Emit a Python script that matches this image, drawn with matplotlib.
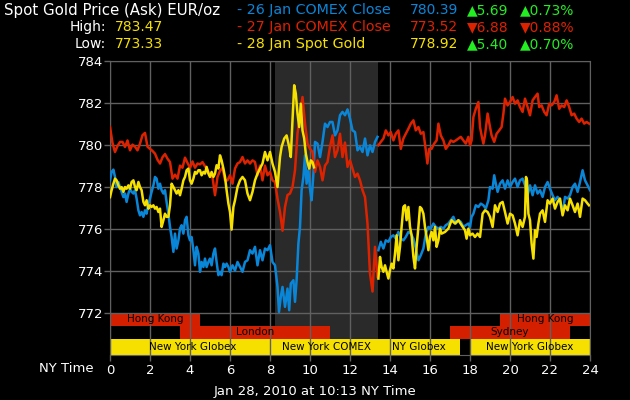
import matplotlib
matplotlib.use('Agg')
import matplotlib.pyplot as plt

# --- data -------------------------------------------------------------
# 27 Jan (red), 26 Jan (blue), 28 Jan (yellow); each day is drawn in two
# pieces: session up to COMEX close, then the evening after 13.4
red1_t = [0, 0.125, 0.25, 0.375, 0.5, 0.625, 0.75, 0.875, 1.0, 1.125, 1.25, 1.375, 1.5, 1.625, 1.75, 1.875,
          2.0, 2.125, 2.25, 2.375, 2.5, 2.625, 2.75, 2.875, 3.0, 3.125, 3.25, 3.375, 3.5, 3.625, 3.75, 3.875,
          4.0, 4.125, 4.25, 4.375, 4.5, 4.625, 4.75, 4.875, 5.0, 5.125, 5.25, 5.375, 5.5, 5.625, 5.75, 5.875,
          6.0, 6.125, 6.25, 6.375, 6.5, 6.625, 6.75, 6.875, 7.0, 7.125, 7.25, 7.375, 7.5, 7.625, 7.75, 7.875,
          8.0, 8.125, 8.25, 8.375, 8.5, 8.625, 8.75, 8.875, 9.0, 9.125, 9.25, 9.375, 9.5, 9.625, 9.75, 9.875,
          10.0, 10.125, 10.25, 10.375, 10.5, 10.625, 10.75, 10.875, 11.0, 11.125, 11.25, 11.375, 11.5, 11.625,
          11.75, 11.875, 12.0, 12.125, 12.25, 12.375, 12.5, 12.625, 12.75, 12.875, 13.0, 13.125, 13.25, 13.375]
red1_v = [780.84, 780.08, 779.65, 779.94, 780.13, 780.13, 779.89, 780.2, 779.73, 780.0, 779.9, 779.73, 780.05, 780.45, 780.56, 779.9,
          779.8, 779.7, 779.57, 779.28, 779.1, 779.4, 779.55, 779.33, 779.17, 778.38, 778.57, 778.38, 779.0, 778.9, 779.38, 779.13,
          778.9, 779.2, 778.9, 779.1, 779.06, 779.17, 778.97, 778.8, 778.54, 778.46, 777.59, 778.46, 778.75, 778.9, 778.3, 778.3,
          778.54, 778.14, 778.86, 779.1, 779.17, 779.41, 779.1, 779.25, 779.1, 779.25, 779.17, 778.54, 779.0, 778.3, 779.0, 778.54,
          778.7, 778.3, 778.22, 777.43, 776.8, 775.9, 777.03, 777.6, 777.67, 777.98, 778.78, 780.52, 781.48, 782.27, 781.0, 780.05,
          779.8, 779.65, 778.7, 779.25, 778.94, 778.3, 779.0, 779.17, 779.9, 780.44, 779.41, 779.73, 780.52, 779.41,
          780.1, 778.94, 779.25, 778.86, 778.46, 778.62, 778.3, 777.83, 777.5, 776.24, 773.86, 773.0, 775.13, 773.7]

red2_t = [13.42, 13.54, 13.67, 13.79, 13.92, 14.04, 14.17, 14.29, 14.42, 14.54, 14.67, 14.79, 14.92, 15.04, 15.17, 15.29,
          15.42, 15.54, 15.67, 15.79, 15.87, 15.96, 16.08, 16.21, 16.33, 16.42, 16.54, 16.67, 16.79, 16.92, 17.04, 17.17,
          17.29, 17.42, 17.54, 17.67, 17.79, 17.92, 18.0, 18.08, 18.17, 18.29, 18.42, 18.5, 18.58, 18.67, 18.75, 18.88,
          19.0, 19.08, 19.21, 19.33, 19.46, 19.58, 19.67, 19.75, 19.88, 20.0, 20.13, 20.25, 20.38, 20.5, 20.63, 20.75,
          20.88, 21.0, 21.13, 21.25, 21.38, 21.46, 21.58, 21.71, 21.83, 21.96, 22.08, 22.21, 22.33, 22.46, 22.58, 22.71,
          22.83, 22.96, 23.08, 23.21, 23.33, 23.46, 23.58, 23.71, 23.83, 23.96]
red2_v = [779.97, 780.13, 780.29, 780.68, 780.44, 780.6, 780.2, 780.52, 780.68, 779.8, 780.29, 780.52, 780.76, 781.0, 781.16, 780.68,
          780.84, 780.52, 780.6, 779.73, 779.1, 779.8, 779.8, 780.05, 780.2, 781.0, 780.44, 780.2, 779.8, 779.97, 780.2, 780.13,
          780.2, 780.29, 780.37, 780.2, 780.05, 780.37, 779.97, 780.2, 781.32, 781.71, 782.03, 780.84, 780.44, 780.05, 780.44, 781.48,
          780.84, 780.44, 780.13, 780.52, 780.68, 780.84, 781.48, 782.19, 781.87, 782.03, 782.27, 781.95, 782.11, 781.79, 781.56, 782.19,
          781.79, 781.4, 782.11, 782.27, 782.43, 781.79, 781.87, 781.56, 781.4, 781.95, 781.87, 782.03, 782.35, 781.71, 781.87, 781.79,
          782.11, 781.79, 781.4, 781.48, 781.24, 781.08, 781.24, 781.0, 781.08, 781.0]

blue1_t = [0, 0.08, 0.17, 0.25, 0.33, 0.42, 0.5, 0.58, 0.67, 0.75, 0.83, 0.92, 1.0, 1.08, 1.17, 1.25, 1.33, 1.42, 1.5, 1.58,
           1.67, 1.75, 1.83, 1.92, 2.0, 2.08, 2.17, 2.25, 2.33, 2.42, 2.5, 2.58, 2.67, 2.75, 2.83, 2.92, 3.0, 3.08, 3.17, 3.25,
           3.33, 3.42, 3.5, 3.58, 3.67, 3.75, 3.83, 3.92, 4.0, 4.08, 4.17, 4.25, 4.33, 4.42, 4.5, 4.58, 4.67, 4.75, 4.83, 4.92,
           5.0, 5.08, 5.17, 5.25, 5.33, 5.42, 5.5, 5.58, 5.67, 5.75, 5.83, 5.92, 6.0, 6.125, 6.25, 6.375, 6.5, 6.625, 6.75, 6.875,
           7.0, 7.125, 7.25, 7.375, 7.5, 7.625, 7.75, 7.875, 8.0, 8.125, 8.25, 8.375, 8.45, 8.54, 8.625, 8.75, 8.875, 8.96, 9.04, 9.17,
           9.25, 9.33, 9.42, 9.5, 9.58, 9.67, 9.75, 9.83, 9.92, 10.0, 10.08, 10.17, 10.25, 10.375, 10.5, 10.625, 10.75, 10.875, 11.0, 11.125,
           11.25, 11.375, 11.5, 11.625, 11.75, 11.875, 12.0, 12.125, 12.25, 12.375, 12.5, 12.625, 12.75, 12.875, 13.0, 13.125, 13.25, 13.375]
blue1_v = [778.3, 778.7, 778.81, 778.46, 777.98, 778.22, 777.98, 777.75, 777.5, 777.67, 777.27, 777.67, 777.9, 777.75, 777.67, 777.83, 777.43, 776.87, 776.63, 776.79,
           776.56, 776.87, 776.71, 777.19, 777.43, 777.75, 778.06, 778.46, 778.38, 777.9, 778.14, 777.83, 777.67, 777.83, 777.27, 776.71, 776.08, 775.6, 774.89, 775.76,
           775.05, 775.44, 776.0, 776.16, 775.76, 776.4, 776.56, 775.68, 775.44, 775.6, 774.97, 774.25, 775.13, 774.81, 773.94, 774.41, 774.17, 774.57, 774.17, 774.41,
           774.57, 774.25, 774.81, 775.05, 774.41, 773.78, 773.94, 773.78, 774.33, 774.17, 774.33, 774.17, 773.94, 774.25, 774.0, 774.41, 774.17, 773.94, 774.41, 774.49,
           774.97, 774.81, 775.13, 774.25, 774.97, 774.49, 775.05, 774.97, 775.21, 774.41, 774.25, 773.22, 772.03, 772.75, 773.22, 772.27, 773.14, 772.11, 773.38, 773.54,
           772.51, 773.54, 775.29, 776.08, 777.83, 778.46, 779.49, 778.14, 778.78, 777.9, 777.35, 778.62, 780.13, 780.05, 779.41, 780.13, 781.0, 780.84, 781.08, 781.08,
           780.44, 780.68, 781.4, 781.56, 781.4, 781.68, 781.24, 780.68, 780.6, 779.73, 779.89, 779.65, 780.29, 779.49, 779.97, 779.65, 780.13, 780.37]

blue2_t = [13.42, 13.54, 13.67, 13.79, 13.92, 14.04, 14.17, 14.29, 14.42, 14.54, 14.67, 14.79, 14.92, 15.04, 15.17, 15.29,
           15.42, 15.54, 15.67, 15.79, 15.92, 16.04, 16.17, 16.29, 16.42, 16.54, 16.67, 16.79, 16.92, 17.04, 17.17, 17.29,
           17.42, 17.54, 17.67, 17.79, 17.92, 18.0, 18.08, 18.17, 18.29, 18.42, 18.54, 18.67, 18.79, 18.92, 19.0, 19.13,
           19.21, 19.29, 19.38, 19.5, 19.63, 19.75, 19.88, 20.0, 20.13, 20.25, 20.38, 20.5, 20.63, 20.75, 20.88, 21.0,
           21.13, 21.25, 21.38, 21.5, 21.63, 21.75, 21.88, 22.0, 22.13, 22.25, 22.38, 22.5, 22.63, 22.75, 22.88, 23.0,
           23.13, 23.25, 23.38, 23.5, 23.63, 23.75, 23.88, 24.0]
blue2_v = [774.97, 775.37, 775.05, 775.44, 775.37, 775.6, 775.68, 775.52, 775.84, 775.52, 775.44, 775.6, 775.84, 775.76, 775.52, 775.05,
           774.49, 774.73, 775.05, 775.76, 776.08, 776.0, 776.24, 776.08, 776.0, 776.08, 776.0, 776.16, 776.24, 776.4, 776.56, 776.24,
           776.4, 776.32, 776.08, 776.16, 776.24, 776.08, 776.56, 776.71, 777.11, 777.03, 777.19, 777.11, 776.95, 777.35, 777.98, 777.9,
           778.54, 778.14, 777.75, 778.14, 778.3, 777.9, 778.3, 777.98, 778.22, 778.38, 777.98, 778.3, 778.38, 778.06, 777.59, 778.06,
           777.59, 778.06, 777.67, 777.83, 777.51, 777.98, 778.22, 777.9, 777.59, 777.35, 777.51, 777.35, 776.71, 777.51, 777.43, 777.59,
           777.98, 778.14, 777.75, 778.22, 778.78, 778.3, 778.06, 777.83]

yel1_t = [0, 0.08, 0.17, 0.25, 0.33, 0.42, 0.5, 0.58, 0.67, 0.75, 0.83, 0.92, 1.0, 1.08, 1.17, 1.25, 1.33, 1.42, 1.5, 1.58,
          1.67, 1.75, 1.83, 1.92, 2.0, 2.08, 2.17, 2.25, 2.33, 2.42, 2.5, 2.58, 2.67, 2.75, 2.83, 2.92, 3.0, 3.08, 3.17, 3.25,
          3.33, 3.42, 3.5, 3.58, 3.67, 3.75, 3.83, 3.92, 4.0, 4.08, 4.17, 4.25, 4.33, 4.42, 4.5, 4.58, 4.67, 4.75, 4.83, 4.92,
          5.0, 5.08, 5.17, 5.25, 5.33, 5.42, 5.5, 5.58, 5.67, 5.75, 5.83, 5.92, 6.0, 6.08, 6.17, 6.25, 6.375, 6.5, 6.625, 6.75,
          6.875, 7.0, 7.125, 7.25, 7.375, 7.5, 7.625, 7.75, 7.875, 8.0, 8.125, 8.25, 8.375, 8.5, 8.58, 8.71, 8.83, 8.96, 9.04, 9.125,
          9.21, 9.29, 9.375, 9.46, 9.54, 9.625, 9.71, 9.79, 9.875, 9.96, 10.04, 10.125, 10.2]
yel1_v = [777.5, 777.83, 778.14, 778.38, 778.3, 778.06, 777.9, 777.98, 777.75, 777.98, 777.9, 778.06, 777.9, 778.22, 778.3, 777.98, 777.83, 778.22, 777.98, 777.83,
          777.27, 777.11, 777.35, 776.95, 777.11, 777.03, 777.11, 776.95, 777.03, 776.79, 776.95, 776.08, 776.4, 776.71, 776.56, 776.56, 777.11, 778.14, 777.98, 777.83,
          777.67, 777.83, 777.59, 777.9, 778.3, 778.46, 778.78, 778.86, 778.3, 778.14, 778.38, 778.7, 778.62, 778.78, 778.78, 778.54, 778.7, 778.62, 778.94, 778.62,
          778.46, 778.7, 778.46, 778.62, 779.02, 778.86, 779.49, 779.25, 778.86, 778.46, 777.83, 777.19, 776.79, 775.95, 777.03, 777.35, 777.98, 778.3, 778.46, 778.3,
          777.67, 777.35, 777.75, 778.3, 778.62, 778.86, 779.1, 779.65, 779.25, 779.65, 779.1, 778.7, 777.98, 779.41, 779.89, 780.29, 780.44, 779.89, 779.41, 781.16,
          782.83, 782.43, 781.48, 780.84, 781.95, 780.68, 780.29, 779.57, 779.17, 778.86, 779.25, 779.17, 778.92]

yel2_t = [13.42, 13.5, 13.58, 13.67, 13.75, 13.83, 13.92, 14.0, 14.08, 14.17, 14.25, 14.33, 14.42, 14.5, 14.58, 14.67,
          14.75, 14.83, 14.92, 15.0, 15.08, 15.17, 15.25, 15.33, 15.42, 15.5, 15.58, 15.67, 15.75, 15.83, 15.92, 16.0,
          16.08, 16.17, 16.25, 16.33, 16.42, 16.5, 16.58, 16.75, 16.92, 17.08, 17.25, 17.42, 17.58, 17.75, 17.83, 17.92,
          18.0, 18.13, 18.25, 18.38, 18.5, 18.63, 18.75, 18.88, 19.0, 19.13, 19.25, 19.38, 19.5, 19.63, 19.75, 19.88,
          20.0, 20.13, 20.25, 20.38, 20.5, 20.63, 20.75, 20.8, 20.85, 20.92, 21.0, 21.08, 21.17, 21.25, 21.33, 21.42,
          21.5, 21.63, 21.75, 21.88, 22.0, 22.13, 22.25, 22.38, 22.5, 22.63, 22.75, 22.88, 23.0, 23.13, 23.25, 23.38,
          23.5, 23.63, 23.75, 23.88, 23.95]
yel2_v = [773.62, 774.65, 774.17, 773.94, 774.25, 773.94, 773.62, 774.02, 774.33, 774.1, 774.81, 775.68, 774.49, 775.13, 776.08, 777.03,
          777.11, 776.4, 777.03, 776.08, 775.68, 774.65, 774.1, 775.13, 776.08, 777.03, 776.95, 776.71, 776.08, 775.6, 774.97, 775.6,
          775.84, 775.44, 776.08, 775.13, 775.44, 776.0, 775.76, 775.84, 776.0, 776.4, 776.24, 776.4, 776.16, 775.92, 775.52, 776.0,
          775.68, 775.76, 775.6, 775.76, 775.6, 776.71, 776.87, 776.79, 776.56, 776.08, 777.11, 776.79, 777.19, 777.27, 776.79, 776.24,
          776.71, 776.63, 776.24, 775.68, 776.4, 776.08, 776.56, 778.46, 778.3, 776.71, 776.4, 775.29, 774.57, 775.92, 775.6, 776.24,
          776.71, 776.87, 776.32, 777.35, 777.19, 777.43, 776.95, 777.27, 777.43, 776.63, 777.11, 776.87, 777.43, 777.11, 776.79, 777.19,
          776.56, 777.43, 777.35, 777.19, 777.11]

# market sessions: (row, start, end, label, colour)
sessions = [
    (0, 0.0, 4.5, 'Hong Kong', 'red'),
    (0, 19.5, 24.0, 'Hong Kong', 'red'),
    (1, 3.5, 11.0, 'London', 'red'),
    (1, 17.0, 23.0, 'Sydney', 'red'),
    (2, 0.0, 8.25, 'New York Globex', 'yellow'),
    (2, 8.25, 13.4, 'New York COMEX', 'yellow'),
    (2, 13.4, 17.5, 'NY Globex', 'yellow'),
    (2, 18.0, 24.0, 'New York Globex', 'yellow'),
]
comex_open, comex_close = 8.25, 13.4

x_ticks = list(range(0, 25, 2))
y_ticks = list(range(772, 785, 2))

RED = '#dd2200'
BLUE = '#0a86d8'
YEL = '#f6e000'
GREEN = '#22ee22'
GRID = '#606060'

# --- figure -----------------------------------------------------------
fig = plt.figure(figsize=(6.3, 4.0), dpi=100, facecolor='black')
ax = fig.add_axes([110 / 630, 1 - 354.5 / 400, 480 / 630, (354.5 - 60.7) / 400])
ax.set_facecolor('black')
ax.set_xlim(0, 24)
ax.set_ylim(770.0, 784)

row_top = [772.0, 771.38, 770.73]
row_bot = [771.38, 770.73, 770.0]

ax.axvspan(comex_open, comex_close, ymin=(770.73 - 770.0) / 14, ymax=1,
           color='#2a2a2a', zorder=0, lw=0)

bar_col = {'red': '#d42000', 'yellow': '#f5e000'}
for row, s, e, label, c in sessions:
    ax.fill_between([s, e], row_bot[row], row_top[row], color=bar_col[c], lw=0, zorder=1)
    ax.text((s + e) / 2, (row_bot[row] + row_top[row]) / 2, label, ha='center', va='center',
            fontsize=7.5, color='black', zorder=4)

ax.set_xticks(x_ticks)
ax.set_yticks(y_ticks)
ax.grid(True, color=GRID, lw=1, zorder=3)
ax.set_axisbelow(False)
for sp in ax.spines.values():
    sp.set_color(GRID)
ax.tick_params(colors=GRID, labelcolor='white', labelsize=9.5, length=4, width=1)
ax.tick_params(axis='y', pad=1)
ax.tick_params(axis='x', pad=3)

lw = 1.8
ax.plot(blue1_t, blue1_v, color=BLUE, lw=lw, zorder=5)
ax.plot(blue2_t, blue2_v, color=BLUE, lw=lw, zorder=5)
ax.plot(red1_t, red1_v, color=RED, lw=lw, zorder=6)
ax.plot(red2_t, red2_v, color=RED, lw=lw, zorder=6)
ax.plot(yel1_t, yel1_v, color=YEL, lw=lw, zorder=7)
ax.plot(yel2_t, yel2_v, color=YEL, lw=lw, zorder=7)

# --- header text ------------------------------------------------------
fs = 10
fig.text(4 / 630, 1 - 10 / 400, 'Spot Gold Price (Ask) EUR/oz', color='white', fontsize=10.8, va='center')
fig.text(106 / 630, 1 - 27 / 400, 'High:', color='white', fontsize=fs, va='center', ha='right')
fig.text(115 / 630, 1 - 27 / 400, '783.47', color=YEL, fontsize=fs, va='center')
fig.text(106 / 630, 1 - 44 / 400, 'Low:', color='white', fontsize=fs, va='center', ha='right')
fig.text(115 / 630, 1 - 44 / 400, '773.33', color=YEL, fontsize=fs, va='center')

rows = [
    ('- 26 Jan COMEX Close', BLUE, '780.39', '▲5.69', '▲0.73%', GREEN),
    ('- 27 Jan COMEX Close', RED, '773.52', '▼6.88', '▼0.88%', RED),
    ('- 28 Jan Spot Gold', YEL, '778.92', '▲5.40', '▲0.70%', GREEN),
]
for i, (name, c, val, chg, pct, cc) in enumerate(rows):
    y = 1 - (10 + 17 * i) / 400
    fig.text(237 / 630, y, name, color=c, fontsize=10.3, va='center')
    fig.text(410 / 630, y, val, color=c, fontsize=fs, va='center')
    fig.text(467 / 630, y, chg, color=cc, fontsize=fs, va='center')
    fig.text(520 / 630, y, pct, color=cc, fontsize=fs, va='center')

fig.text(94 / 630, 1 - 368 / 400, 'NY Time', color='white', fontsize=9.5, va='center', ha='right')
fig.text(315 / 630, 1 - 392 / 400, 'Jan 28, 2010 at 10:13 NY Time', color='white', fontsize=9.5,
         va='center', ha='center')

fig.savefig('out.png', dpi=100, facecolor='black')
